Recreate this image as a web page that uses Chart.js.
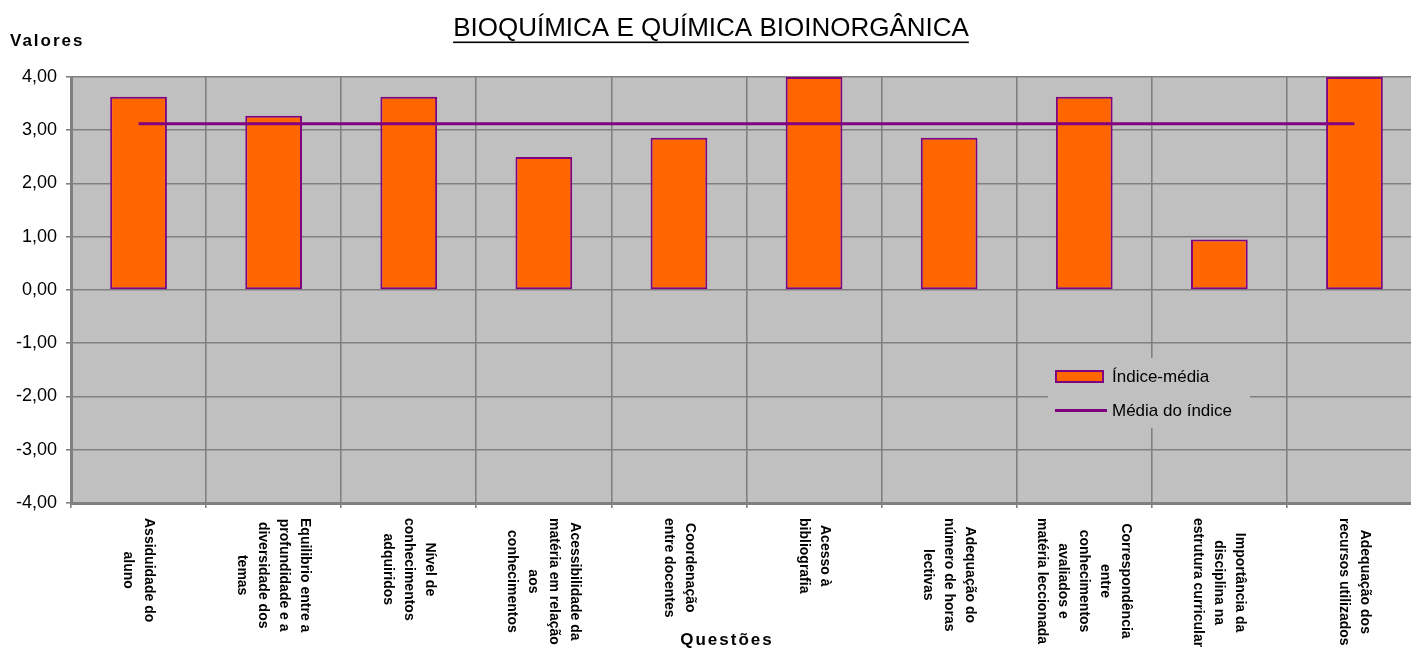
<!DOCTYPE html>
<html>
<head>
    <title>Bioquímica e Química Bioinorgânica</title>
    <script src="https://cdn.jsdelivr.net/npm/chart.js"></script>
    <style>
        html, body { margin: 0; padding: 0; background: #fff; overflow: hidden; }
        #wrap { width: 1422px; height: 657px; }
    </style>
</head>
<body>
<div id="wrap"><canvas id="myChart"></canvas></div>
<script>
// data
const chartTitle = 'BIOQUÍMICA E QUÍMICA BIOINORGÂNICA';
const yTitle = 'Valores';
const xTitle = 'Questões';
const questoes = [
    ['Assiduidade do', 'aluno'],
    ['Equilibrio entre a', 'profundidade e a', 'diversidade dos', 'temas'],
    ['Nível de', 'conhecimentos', 'adquiridos'],
    ['Acessibilidade da', 'matéria em relação', 'aos', 'conhecimentos'],
    ['Coordenação', 'entre docentes'],
    ['Acesso à', 'bibliografia'],
    ['Adequação do', 'número de horas', 'lectivas'],
    ['Correspondência', 'entre', 'conhecimentos', 'avaliados e', 'matéria leccionada'],
    ['Importância da', 'disciplina na', 'estrutura curricular'],
    ['Adequação dos', 'recursos utilizados']
];
const indiceMedia = [3.63, 3.27, 3.63, 2.50, 2.86, 4.00, 2.86, 3.63, 0.95, 4.00];
const mediaDoIndice = [3.12, 3.12, 3.12, 3.12, 3.12, 3.12, 3.12, 3.12, 3.12, 3.12];
const yMin = -4, yMax = 4, yStep = 1;

const FONT = '"Liberation Sans", Arial, sans-serif';
const ORANGE = '#FF6600';
const PURPLE = '#800080';
const PLOT_BG = '#C0C0C0';
const GRID = '#808080';

Chart.defaults.font.family = FONT;
Chart.defaults.color = '#000';

// gray plot area, title underline, axis titles, rotated category labels, legend box
const extras = {
    id: 'extras',
    beforeDraw(chart) {
        const {ctx, chartArea: a} = chart;
        ctx.save();
        ctx.fillStyle = PLOT_BG;
        ctx.fillRect(a.left, a.top, a.right - a.left, a.bottom - a.top);
        ctx.restore();
    },
    afterDraw(chart) {
        const {ctx, chartArea: a} = chart;
        const xs = chart.scales.x;
        ctx.save();

        // underline under title
        ctx.font = '26px ' + FONT;
        const tw = ctx.measureText(chartTitle).width;
        const cx = chart.width / 2;
        ctx.fillStyle = '#000';
        ctx.fillRect(cx - tw / 2, 41.5, tw, 1.6);

        // axis titles
        ctx.font = 'bold 17px ' + FONT;
        ctx.letterSpacing = '2px';
        ctx.textBaseline = 'middle';
        ctx.textAlign = 'left';
        ctx.fillText(yTitle, 10, 41);
        ctx.textAlign = 'center';
        ctx.fillText(xTitle, 727, 640);
        ctx.letterSpacing = '0px';

        // category labels, rotated 90 degrees clockwise
        ctx.font = 'bold 14px ' + FONT;
        const lh = 21;
        questoes.forEach((lines, i) => {
            const x = xs.getPixelForTick(i);
            const maxW = Math.max(...lines.map(l => ctx.measureText(l).width));
            ctx.save();
            ctx.translate(x, a.bottom + 15);
            ctx.rotate(Math.PI / 2);
            ctx.textAlign = 'center';
            ctx.textBaseline = 'middle';
            lines.forEach((l, k) => {
                ctx.fillText(l, maxW / 2, (k - (lines.length - 1) / 2) * lh);
            });
            ctx.restore();
        });

        // legend inside the plot
        const ds = chart.data.datasets;
        ctx.fillStyle = PLOT_BG;
        ctx.fillRect(1048, 358, 202, 70);
        ctx.fillStyle = ds[0].backgroundColor;
        ctx.fillRect(1056, 371, 47, 11);
        ctx.strokeStyle = ds[0].borderColor;
        ctx.lineWidth = 2;
        ctx.strokeRect(1056, 371, 47, 11);
        ctx.strokeStyle = ds[1].borderColor;
        ctx.lineWidth = 3;
        ctx.beginPath();
        ctx.moveTo(1055, 410.5);
        ctx.lineTo(1107, 410.5);
        ctx.stroke();
        ctx.fillStyle = '#000';
        ctx.font = '17px ' + FONT;
        ctx.textAlign = 'left';
        ctx.textBaseline = 'middle';
        ctx.fillText(ds[0].label, 1112, 377);
        ctx.fillText(ds[1].label, 1112, 411);

        ctx.restore();
    }
};

const ctx = document.getElementById('myChart').getContext('2d');
const myChart = new Chart(ctx, {
    type: 'bar',
    data: {
        labels: questoes,
        datasets: [
            {
                type: 'bar',
                label: 'Índice-média',
                data: indiceMedia,
                backgroundColor: ORANGE,
                borderColor: PURPLE,
                borderWidth: 2,
                borderSkipped: false,
                barPercentage: 0.42,
                categoryPercentage: 1,
                order: 2
            },
            {
                type: 'line',
                label: 'Média do índice',
                data: mediaDoIndice,
                borderColor: PURPLE,
                backgroundColor: PURPLE,
                borderWidth: 3,
                pointRadius: 0,
                fill: false,
                order: 1
            }
        ]
    },
    options: {
        responsive: true,
        maintainAspectRatio: false,
        animation: false,
        layout: { padding: 0 },
        plugins: {
            legend: { display: false },
            tooltip: { enabled: false },
            title: {
                display: true,
                text: chartTitle,
                color: '#000',
                font: { size: 26, weight: 'normal' },
                padding: { top: 13, bottom: 32.8 }
            }
        },
        scales: {
            x: {
                offset: true,
                ticks: { display: false },
                grid: {
                    offset: true,
                    color: GRID,
                    lineWidth: 1.6,
                    tickLength: 5
                },
                border: { color: GRID, width: 3 },
                afterFit(scale) { scale.height = 154; }
            },
            y: {
                min: yMin,
                max: yMax,
                ticks: {
                    stepSize: yStep,
                    padding: 9,
                    font: { size: 18 },
                    color: '#000',
                    callback: v => v.toFixed(2).replace('.', ',')
                },
                grid: {
                    color: GRID,
                    lineWidth: 1.6,
                    tickLength: 5
                },
                border: { color: GRID, width: 3 },
                afterFit(scale) { scale.width = 71; }
            }
        }
    },
    plugins: [extras]
});
</script>
</body>
</html>
